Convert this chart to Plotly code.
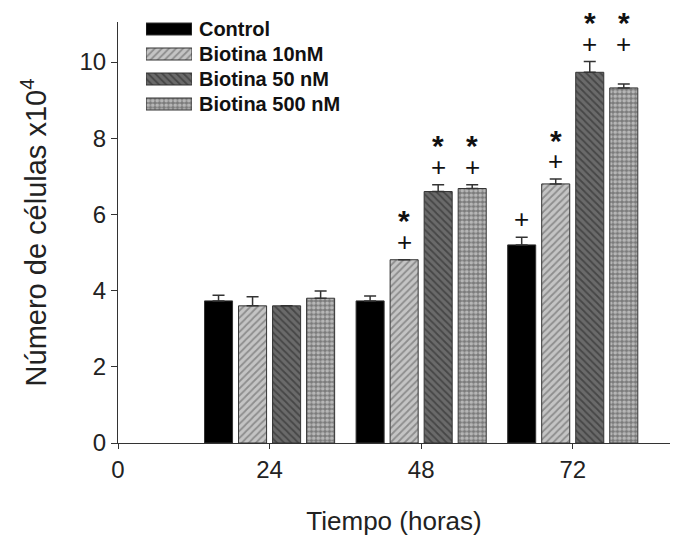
import plotly.graph_objects as go

hours = [24, 48, 72]
series_names = ["Control", "Biotina 10nM", "Biotina 50 nM", "Biotina 500 nM"]
control = [3.73, 3.73, 5.20]
control_err = [0.15, 0.13, 0.20]
biot10 = [3.60, 4.81, 6.80]
biot10_err = [0.24, 0.0, 0.13]
biot50 = [3.60, 6.60, 9.73]
biot50_err = [0.0, 0.18, 0.28]
biot500 = [3.80, 6.68, 9.32]
biot500_err = [0.19, 0.10, 0.10]
# significance marks per series and time point ("+" vs 24 h, "*" vs control)
plus_marks = [[False, False, True], [False, True, True], [False, True, True], [False, True, True]]
star_marks = [[False, False, False], [False, True, True], [False, True, True], [False, True, True]]

values = [control, biot10, biot50, biot500]
errors = [control_err, biot10_err, biot50_err, biot500_err]

styles = [
    dict(color="#000000", pattern=dict(shape="")),
    dict(color="#b4b4b4", pattern=dict(shape="/", fgcolor="#555555", bgcolor="#c4c4c4", size=5, solidity=0.35)),
    dict(color="#555555", pattern=dict(shape="\\", fgcolor="#222222", bgcolor="#6a6a6a", size=5, solidity=0.35)),
    dict(color="#909090", pattern=dict(shape=".", fgcolor="#f2f2f2", bgcolor="#7a7a7a", size=4.5, solidity=0.55)),
]

fig = go.Figure()
for name, v, e, st in zip(series_names, values, errors, styles):
    fig.add_trace(go.Bar(
        x=hours, y=v, name=name, showlegend=False,
        marker=dict(color=st["color"], pattern=st["pattern"], line=dict(color="#333333", width=1)),
        error_y=dict(type="data", symmetric=False, array=e, arrayminus=[0] * len(e),
                     color="#333333", thickness=1.5, width=6),
    ))

# legend drawn as wide swatches on a small inset axis
for i, (name, st) in enumerate(zip(series_names, styles)):
    fig.add_trace(go.Bar(
        x=[1], y=[i], base=0, orientation="h", width=0.48, showlegend=False,
        marker=dict(color=st["color"], pattern=st["pattern"], line=dict(color="#333333", width=1)),
        xaxis="x2", yaxis="y2", hoverinfo="skip",
    ))

n = len(series_names)
bargap = 0.102
slot = 24 * (1 - bargap) / n
annotations = []
for i in range(n):
    for j, h in enumerate(hours):
        xc = h - 24 * (1 - bargap) / 2 + slot * (i + 0.5)
        cap = values[i][j] + errors[i][j]
        if i >= 2:
            cap = max(values[2][j] + errors[2][j], values[3][j] + errors[3][j])
        if plus_marks[i][j]:
            annotations.append(dict(x=xc, y=cap + 0.47, text="+", showarrow=False,
                                    font=dict(size=26, color="#111111"), yanchor="middle"))
        if star_marks[i][j]:
            annotations.append(dict(x=xc, y=cap + 0.47, yshift=21, text="*", showarrow=False,
                                    font=dict(size=30, color="#111111", weight="bold"),
                                    yanchor="middle"))

fig.update_layout(
    width=680, height=547,
    margin=dict(l=118, r=10, t=22, b=104),
    paper_bgcolor="white", plot_bgcolor="white",
    barmode="group", bargap=bargap, bargroupgap=0.176,
    font=dict(family="Liberation Sans, Arial, sans-serif", color="#222222"),
    showlegend=False,
    annotations=annotations,
    xaxis=dict(range=[0, 87.4], tickvals=[0, 24, 48, 72], ticktext=["0", "24", "48", "72"],
               ticks="outside", ticklen=5, tickcolor="#333333",
               showline=True, linecolor="#333333", linewidth=1, showgrid=False, zeroline=False,
               tickfont=dict(size=24),
               title=dict(text="Tiempo (horas)", font=dict(size=26), standoff=30)),
    yaxis=dict(range=[0, 11.05], tickvals=[0, 2, 4, 6, 8, 10],
               ticks="outside", ticklen=6, tickcolor="#333333",
               showline=True, linecolor="#333333", linewidth=1, showgrid=False, zeroline=False,
               tickfont=dict(size=24),
               title=dict(text="Número de células x10<sup>4</sup>", font=dict(size=29), standoff=24)),
    xaxis2=dict(domain=[0.0507, 0.134], range=[0, 1], anchor="y2", visible=False, fixedrange=True),
    yaxis2=dict(domain=[0.75, 1.0], range=[3.93, -0.28], anchor="x2", side="right",
                tickvals=list(range(n)), ticktext=series_names, ticks="", showline=False,
                showgrid=False, zeroline=False, ticklabelstandoff=6,
                tickfont=dict(size=20, color="#111111", weight="bold"), fixedrange=True),
)

fig.write_html("out.html")
